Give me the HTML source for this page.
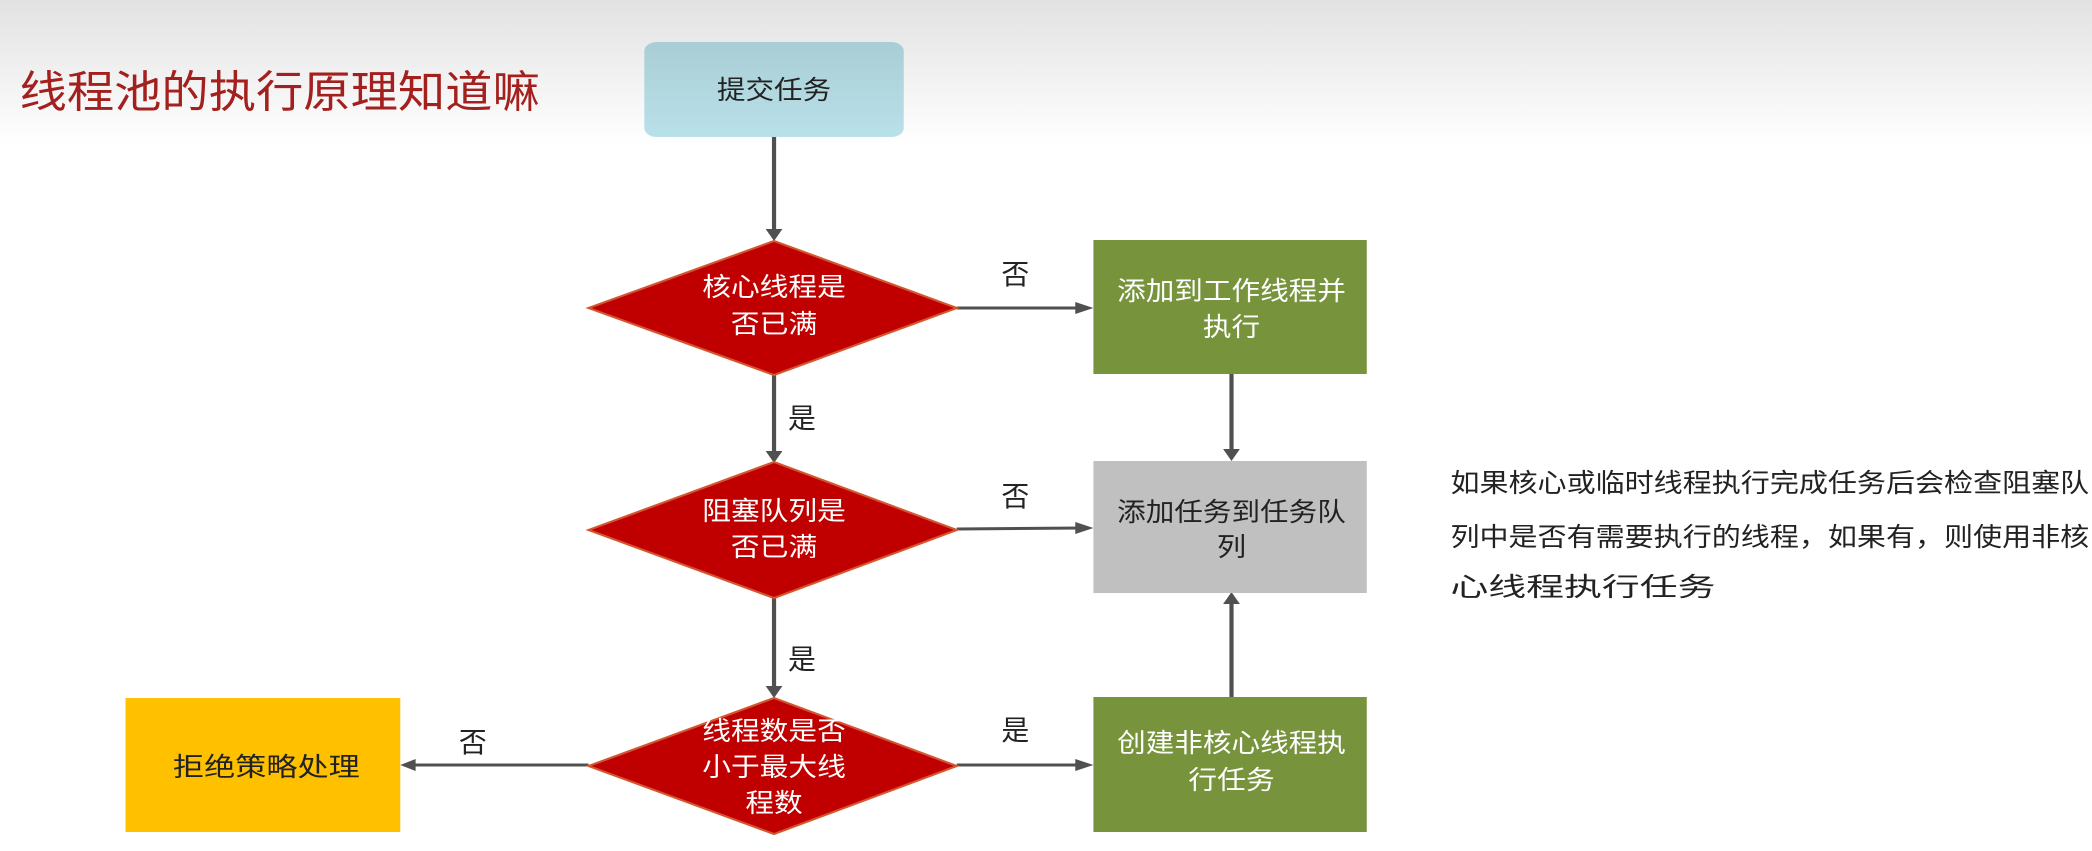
<!DOCTYPE html>
<html><head><meta charset="utf-8"><style>
html,body{margin:0;padding:0;background:#fff;}
svg{display:block;}
text{font-family:"Liberation Sans","Noto Sans CJK SC",sans-serif;}
</style></head><body>
<svg width="2092" height="851" viewBox="0 0 1500 851" preserveAspectRatio="none" xmlns="http://www.w3.org/2000/svg">
<defs>
<linearGradient id="bg" x1="0" y1="0" x2="0" y2="1"><stop offset="0" stop-color="#e2e2e2"/><stop offset="1" stop-color="#ffffff"/></linearGradient>
<linearGradient id="bl" x1="0" y1="0" x2="0" y2="1"><stop offset="0" stop-color="#a9cdd5"/><stop offset="1" stop-color="#b9e1e9"/></linearGradient>
<marker id="ah" viewBox="0 0 10 10" refX="9" refY="5" markerWidth="5" markerHeight="5" orient="auto-start-reverse" markerUnits="userSpaceOnUse" style="overflow:visible"><path d="M0,0 L10,5 L0,10 z" fill="#505050"/></marker>
</defs>
<rect x="0" y="0" width="1500" height="145" fill="url(#bg)"/>
<text x="14" y="107" font-size="44" fill="#a3201e" textLength="373" lengthAdjust="spacingAndGlyphs">线程池的执行原理知道嘛</text>

<g stroke="#505050" stroke-width="3" fill="none">
<line x1="555" y1="137" x2="555" y2="232"/>
<line x1="686" y1="308" x2="776" y2="308"/>
<line x1="555" y1="375" x2="555" y2="454"/>
<line x1="686" y1="529" x2="776" y2="528"/>
<line x1="555" y1="598" x2="555" y2="689"/>
<line x1="686" y1="765" x2="776" y2="765"/>
<line x1="422" y1="765" x2="296" y2="765"/>
<line x1="883" y1="374" x2="883" y2="452"/>
<line x1="883" y1="697" x2="883" y2="601"/>
</g>
<g fill="#505050">
<path d="M549,229 L561,229 L555,241 z"/>
<path d="M771,302 L771,314 L784,308 z"/>
<path d="M549,451 L561,451 L555,463 z"/>
<path d="M771,522 L771,534 L784,528 z"/>
<path d="M549,686 L561,686 L555,698 z"/>
<path d="M771,759 L771,771 L784,765 z"/>
<path d="M298,759 L298,771 L287,765 z"/>
<path d="M877,449 L889,449 L883,461 z"/>
<path d="M877,604 L889,604 L883,592 z"/>
</g>

<rect x="462" y="42" width="186" height="95" rx="9" fill="url(#bl)"/>
<text x="555" y="99" font-size="26" fill="#222" text-anchor="middle" textLength="82" lengthAdjust="spacingAndGlyphs">提交任务</text>

<g fill="#c00000" stroke="#d4552e" stroke-width="2">
<polygon points="555,241 686,308 555,375 422,308"/>
<polygon points="555,462 686,530 555,598 422,530"/>
<polygon points="555,698 686,766 555,834 422,766"/>
</g>
<g fill="#fff" font-size="26" text-anchor="middle">
<text x="555" y="296" textLength="103" lengthAdjust="spacingAndGlyphs">核心线程是</text>
<text x="555" y="333" textLength="62" lengthAdjust="spacingAndGlyphs">否已满</text>
<text x="555" y="520" textLength="103" lengthAdjust="spacingAndGlyphs">阻塞队列是</text>
<text x="555" y="556" textLength="62" lengthAdjust="spacingAndGlyphs">否已满</text>
<text x="555" y="740" textLength="103" lengthAdjust="spacingAndGlyphs">线程数是否</text>
<text x="555" y="776" textLength="103" lengthAdjust="spacingAndGlyphs">小于最大线</text>
<text x="555" y="812" textLength="41" lengthAdjust="spacingAndGlyphs">程数</text>
</g>

<rect x="784" y="240" width="196" height="134" fill="#77933c"/>
<rect x="784" y="461" width="196" height="132" fill="#c0c0c0"/>
<rect x="784" y="697" width="196" height="135" fill="#77933c"/>
<rect x="90" y="698" width="197" height="134" fill="#ffc000"/>

<g font-size="26" text-anchor="middle">
<text x="883" y="300" fill="#fff" textLength="164" lengthAdjust="spacingAndGlyphs">添加到工作线程并</text>
<text x="883" y="336" fill="#fff" textLength="41" lengthAdjust="spacingAndGlyphs">执行</text>
<text x="883" y="521" fill="#222" textLength="164" lengthAdjust="spacingAndGlyphs">添加任务到任务队</text>
<text x="883" y="556" fill="#222" textLength="21" lengthAdjust="spacingAndGlyphs">列</text>
<text x="883" y="752" fill="#fff" textLength="164" lengthAdjust="spacingAndGlyphs">创建非核心线程执</text>
<text x="883" y="789" fill="#fff" textLength="62" lengthAdjust="spacingAndGlyphs">行任务</text>
<text x="191" y="776" fill="#222" textLength="134" lengthAdjust="spacingAndGlyphs">拒绝策略处理</text>
</g>

<g font-size="28" fill="#222" text-anchor="middle">
<text x="728" y="284" textLength="20" lengthAdjust="spacingAndGlyphs">否</text>
<text x="575" y="428" textLength="20" lengthAdjust="spacingAndGlyphs">是</text>
<text x="728" y="506" textLength="20" lengthAdjust="spacingAndGlyphs">否</text>
<text x="575" y="669" textLength="20" lengthAdjust="spacingAndGlyphs">是</text>
<text x="728" y="740" textLength="20" lengthAdjust="spacingAndGlyphs">是</text>
<text x="339" y="752" textLength="20" lengthAdjust="spacingAndGlyphs">否</text>
</g>

<g font-size="26" fill="#222">
<text x="1040" y="492" textLength="458" lengthAdjust="spacingAndGlyphs">如果核心或临时线程执行完成任务后会检查阻塞队</text>
<text x="1040" y="546" textLength="458" lengthAdjust="spacingAndGlyphs">列中是否有需要执行的线程，如果有，则使用非核</text>
<text x="1040" y="596" textLength="190" lengthAdjust="spacingAndGlyphs">心线程执行任务</text>
</g>
</svg>
</body></html>
